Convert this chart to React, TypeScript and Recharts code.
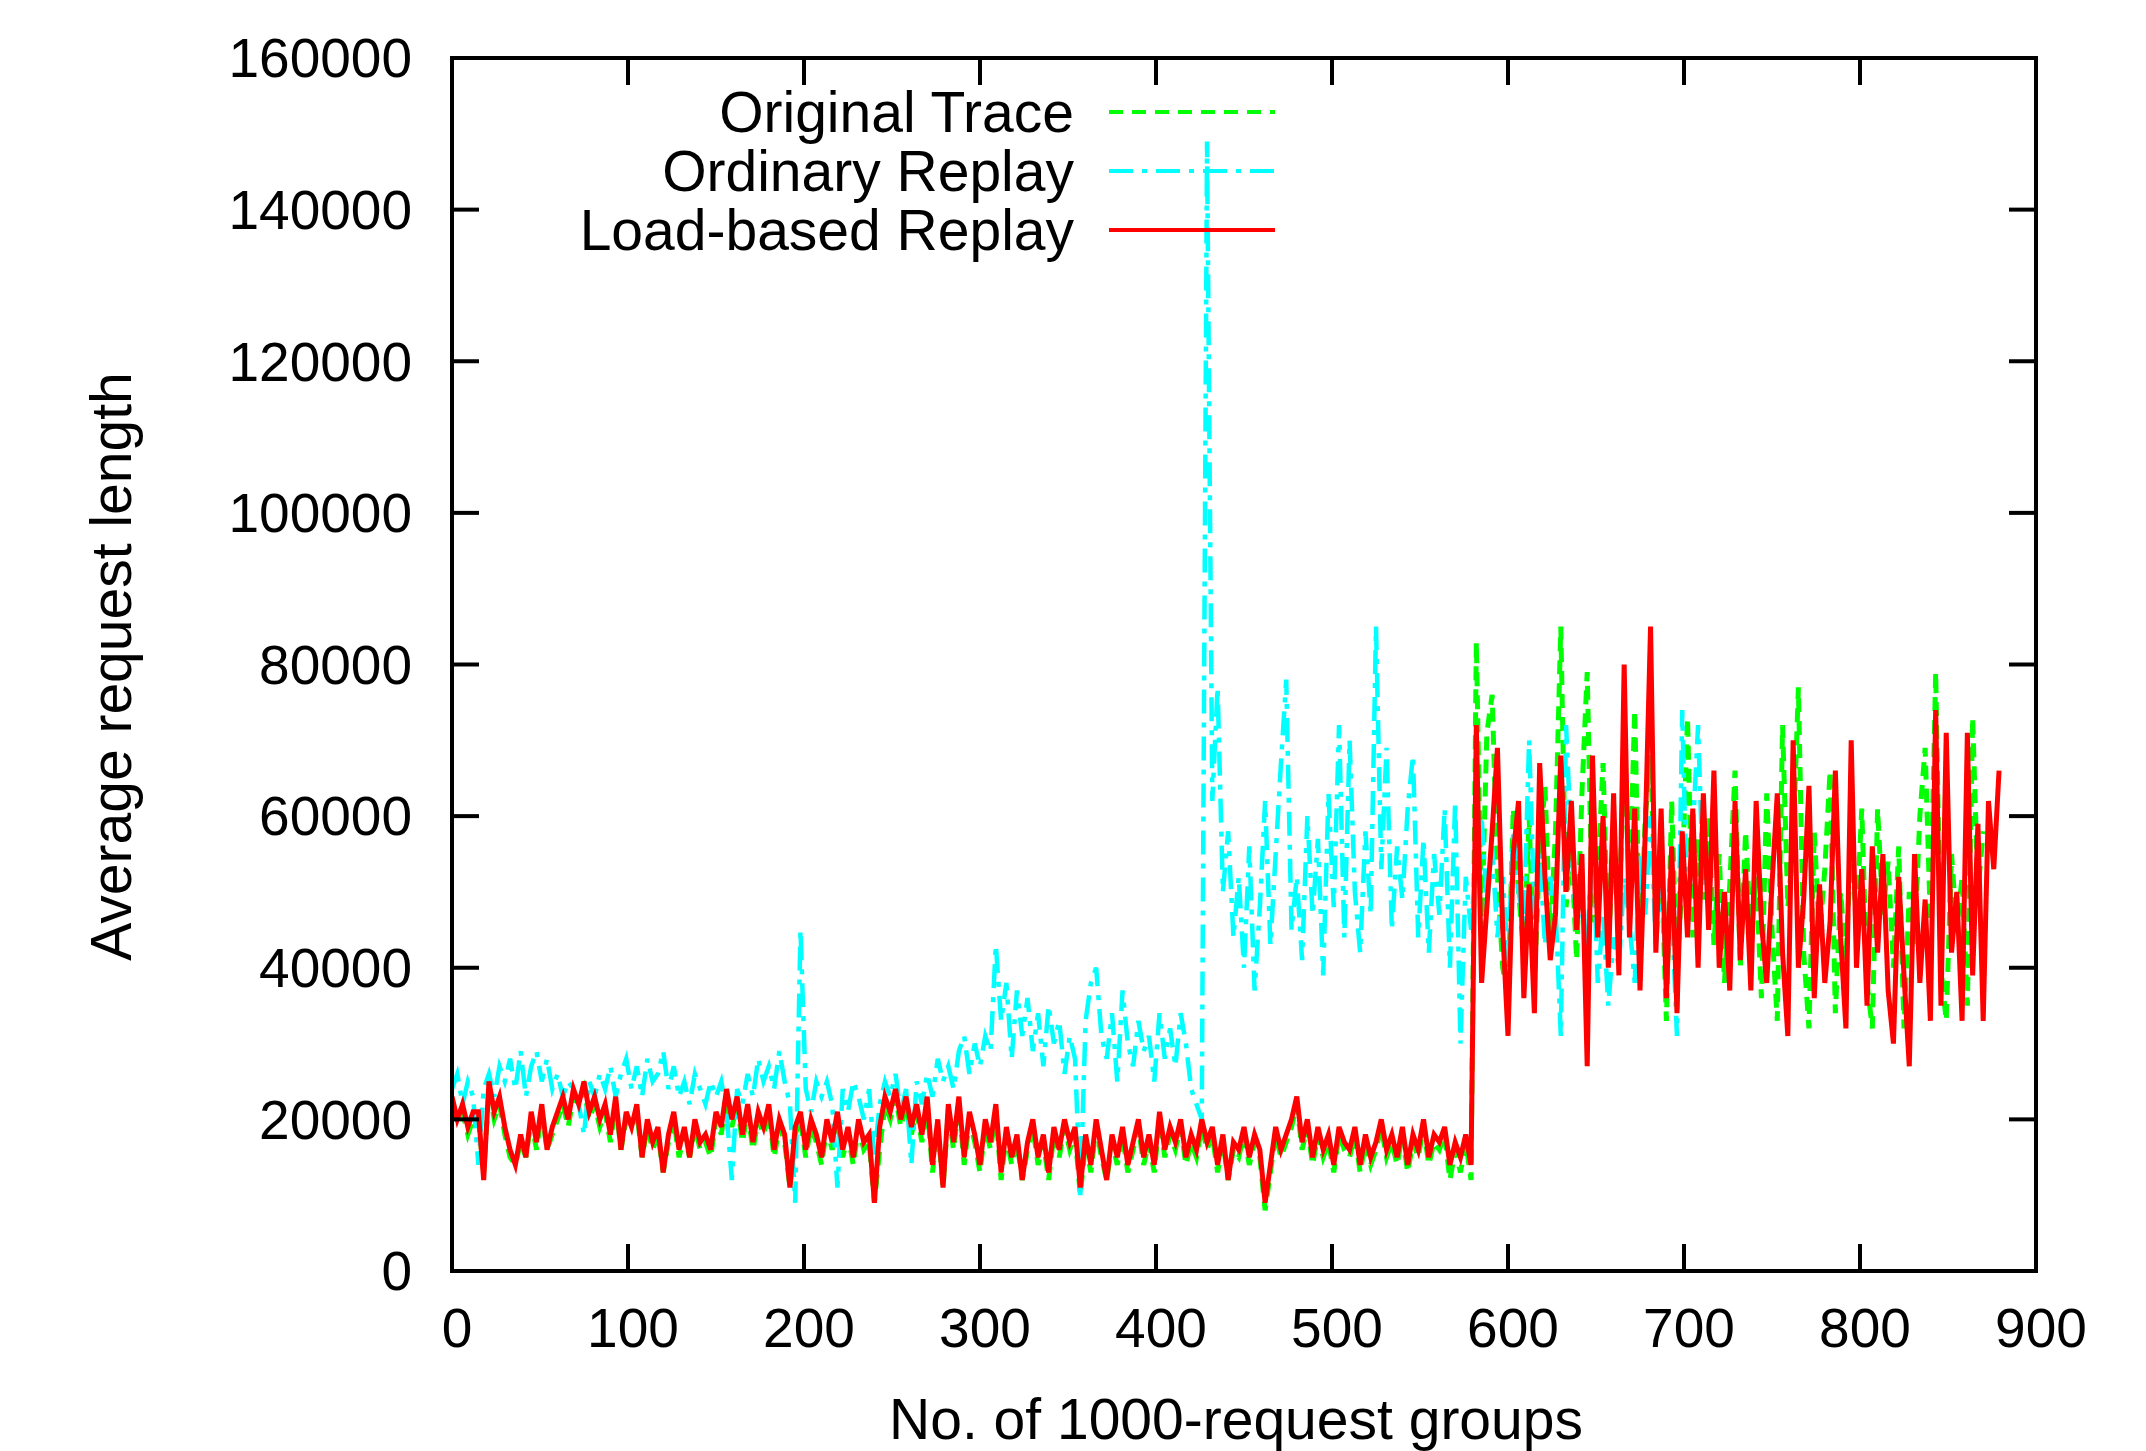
import { LineChart, Line, XAxis, YAxis, Legend, Label } from "recharts"

const FONT = "'Liberation Sans', Arial, Helvetica, sans-serif"

// one sample every 3 request groups
const STEP = 3

const X_TICKS = [0, 100, 200, 300, 400, 500, 600, 700, 800, 900]
const Y_TICKS = [0, 20000, 40000, 60000, 80000, 100000, 120000, 140000, 160000]

// values in thousands
const ORIGINAL_K = [
  22, 20, 21, 18, 20, 20, 13, 24, 20, 22,
  18, 15, 14, 17, 15, 20, 16, 21, 16, 18,
  20, 22, 19, 23, 22, 24, 20, 22, 19, 21,
  17, 22, 16, 20, 19, 21, 15, 19, 16, 18,
  13, 17, 20, 15, 18, 15, 19, 16, 17, 15,
  20, 18, 23, 19, 22, 17, 21, 16, 20, 18,
  21, 15, 19, 17, 11, 18, 20, 15, 19, 17,
  14, 19, 16, 20, 15, 18, 14, 19, 16, 17,
  9, 16, 22, 20, 23, 19, 22, 18, 21, 17,
  22, 13, 19, 11, 21, 16, 22, 14, 20, 17,
  13, 19, 16, 21, 12, 18, 14, 17, 12, 16,
  19, 14, 17, 12, 18, 15, 19, 16, 18, 10,
  17, 13, 19, 15, 12, 17, 14, 18, 13, 16,
  19, 14, 17, 13, 20, 15, 18, 16, 19, 14,
  17, 15, 19, 16, 18, 13, 17, 12, 16, 15,
  18, 14, 17, 15, 8, 13, 18, 15, 17, 19,
  22, 16, 19, 14, 18, 15, 17, 13, 18, 16,
  15, 18, 13, 17, 14, 16, 19, 15, 17, 14,
  18, 13, 17, 15, 19, 14, 17, 16, 18, 12,
  16, 13, 17, 12,
  83, 45, 71, 76, 52, 40, 36, 61, 50, 42,
  60, 38, 55, 64, 44, 58, 85, 48, 56, 41,
  63, 79, 46, 52, 67, 42, 58, 45, 70, 50,
  74, 41, 60, 68, 47, 55, 33, 62, 39, 52,
  73, 44, 57, 49, 60, 43, 55, 38, 51, 66,
  40, 58, 44, 52, 36, 63, 45, 33, 72, 48,
  56, 77, 42, 32, 58, 44, 53, 66, 34, 50,
  41, 57, 46, 61, 38, 32, 61, 47, 54, 40,
  56, 32, 50, 43, 60, 69, 46, 79, 40, 33,
  55, 45, 52, 35, 73, 50, 58,
]

const ORDINARY_K = [
  24, 26, 22, 25, 23, 14, 24, 26, 23, 27,
  25, 28, 24, 29, 23, 27, 29, 25, 28, 24,
  26, 23, 25, 24, 22, 18, 25, 23, 26, 24,
  27, 23, 26, 28, 24, 27, 23, 28, 25, 26,
  29, 24, 27, 23, 25, 22, 26, 24, 22, 25,
  23, 25, 21, 12, 24, 22, 26, 23, 28, 25,
  27, 24, 29, 25, 22, 9, 45, 24, 21, 25,
  23, 25, 22, 11, 24, 21, 25, 23, 20, 24,
  15, 22, 25, 23, 26, 21, 24, 14, 25, 22,
  26, 23, 28, 25, 27, 24, 29, 31, 26, 30,
  27, 31, 29, 43, 33, 38, 28, 37, 31, 36,
  29, 34, 27, 35, 30, 33, 26, 31, 28, 10,
  33, 38, 40, 31, 28, 34, 25, 37, 30, 27,
  33, 29, 31, 25, 34, 28, 32, 27, 34, 30,
  24, 22, 20, 149, 62, 77, 50, 58, 44, 52,
  40, 56, 37, 48, 62, 43, 55, 67, 78, 45,
  52, 41, 60, 47, 57, 39, 63, 48, 72, 44,
  70, 50, 42, 58, 47, 85, 53, 69, 45, 56,
  49, 61, 68, 44, 57, 42, 55, 47, 61, 40,
  62, 30, 52, 45,
  55, 60, 48, 56, 44, 52, 41, 58, 50, 46,
  70, 47, 55, 43, 52, 48, 31, 72, 56, 45,
  50, 42, 58, 38, 47, 35, 44, 40, 52, 46,
  38, 55, 47, 60, 43, 51, 39, 48, 31, 74,
  45, 58, 72, 50,
]

const LOAD_K = [
  23, 20, 22, 19, 21, 21, 12, 25, 21, 23,
  19, 16, 14, 18, 15, 21, 17, 22, 16, 19,
  21, 23, 20, 24, 22, 25, 21, 23, 20, 22,
  18, 23, 16, 21, 19, 22, 15, 20, 17, 19,
  13, 18, 21, 16, 19, 15, 20, 17, 18, 16,
  21, 19, 24, 20, 23, 18, 22, 17, 21, 19,
  22, 16, 20, 18, 11, 19, 21, 16, 20, 18,
  15, 20, 17, 21, 16, 19, 15, 20, 17, 18,
  9, 19, 23, 21, 24, 20, 23, 19, 22, 18,
  23, 14, 20, 11, 22, 17, 23, 15, 21, 18,
  14, 20, 17, 22, 13, 19, 15, 18, 12, 17,
  20, 15, 18, 13, 19, 16, 20, 17, 19, 11,
  18, 14, 20, 16, 12, 18, 15, 19, 14, 17,
  20, 15, 18, 14, 21, 16, 19, 17, 20, 15,
  18, 16, 20, 17, 19, 14, 18, 12, 17, 16,
  19, 15, 18, 16, 9, 14, 19, 16, 18, 20,
  23, 17, 20, 15, 19, 16, 18, 14, 19, 17,
  16, 19, 14, 18, 15, 17, 20, 16, 18, 15,
  19, 14, 18, 16, 20, 15, 18, 17, 19, 14,
  17, 15, 18, 14,
  72, 38, 48, 58, 69, 45, 31, 55, 62, 36,
  51, 34, 67, 52, 41, 47, 68, 50, 62, 45,
  55, 27, 68, 44, 60, 40, 63, 39, 80, 44,
  61, 37, 58, 85, 42, 61, 36, 56, 34, 58,
  44, 61, 40, 63, 45, 66, 40, 50, 37, 62,
  41, 53, 37, 62, 46, 38, 51, 63, 42, 31,
  70, 40, 49, 64, 36, 51, 38, 46, 66, 44,
  32, 70, 40, 53, 35, 56, 42, 55, 37, 30,
  52, 39, 27, 55, 38, 49, 33, 74, 35, 71,
  42, 50, 33, 71, 39, 59, 33, 62, 53, 66,
]

const SERIES = [
  { key: "orig", name: "Original Trace", color: "#00ff00", dash: "14 9", width: 5 },
  { key: "ord", name: "Ordinary Replay", color: "#00ffff", dash: "24 9 5 9", width: 4.5 },
  { key: "load", name: "Load-based Replay", color: "#ff0000", dash: undefined, width: 5 },
]

const toVal = (arr: number[], i: number) => (i < arr.length ? arr[i] * 1000 : null)

const rows = LOAD_K.map((_, i) => ({
  g: i * STEP,
  orig: toVal(ORIGINAL_K, i),
  ord: toVal(ORDINARY_K, i),
  load: toVal(LOAD_K, i),
}))

const axisStroke = { stroke: "#000", strokeWidth: 4, strokeLinecap: "square" as const }

const XTick = ({ x, y, payload }: any) => (
  <text x={x + 5} y={y} dy="0.35em" textAnchor="middle" fontSize={55} fontFamily={FONT} fill="#000">
    {payload.value}
  </text>
)

const YTick = ({ x, y, payload }: any) => (
  <text x={x} y={y} dy="0.35em" textAnchor="end" fontSize={55} fontFamily={FONT} fill="#000">
    {payload.value}
  </text>
)

// mirror axes: keep the tick marks, no labels
const NoLabel = () => <g />

const XTitle = (props: any) => {
  const { x, y, width } = props.viewBox
  return (
    <text x={x + width / 2 - 8} y={y + 148} dy="0.35em" textAnchor="middle" fontSize={57} fontFamily={FONT} fill="#000">
      No. of 1000-request groups
    </text>
  )
}

const YTitle = (props: any) => {
  const { x, y, height } = props.viewBox
  const cx = x - 41
  const cy = y + height / 2 + 2
  return (
    <text x={cx} y={cy} dy="0.35em" textAnchor="middle" transform={`rotate(-90 ${cx} ${cy})`} fontSize={57} fontFamily={FONT} fill="#000">
      Average request length
    </text>
  )
}

const LegendBox = () => (
  <svg width={900} height={240} style={{ overflow: "visible" }}>
    {SERIES.map((s, i) => (
      <g key={s.key}>
        <text x={674} y={52 + i * 59} dy="0.35em" textAnchor="end" fontSize={57} fontFamily={FONT} fill="#000">
          {s.name}
        </text>
        <line x1={709} x2={875} y1={52 + i * 59} y2={52 + i * 59} stroke={s.color} strokeWidth={4} strokeDasharray={s.dash} />
      </g>
    ))}
  </svg>
)

export default function App() {
  return (
    <div style={{ position: "absolute", left: 0, top: 0 }}>
      <LineChart width={2146} height={1451} data={rows} margin={{ top: 57, right: 109, bottom: 30, left: 152 }}>
        <XAxis xAxisId="b" dataKey="g" type="number" domain={[0, 900]} allowDataOverflow ticks={X_TICKS} interval={0}
          height={150} tickSize={-25} tickMargin={82} tick={XTick} axisLine={axisStroke} tickLine={axisStroke}>
          <Label content={XTitle} />
        </XAxis>
        <XAxis xAxisId="t" dataKey="g" orientation="top" type="number" domain={[0, 900]} allowDataOverflow ticks={X_TICKS} interval={0}
          height={1} tickSize={-25} tick={NoLabel} axisLine={axisStroke} tickLine={axisStroke} />
        <YAxis yAxisId="l" type="number" domain={[0, 160000]} allowDataOverflow ticks={Y_TICKS} interval={0}
          width={300} tickSize={-25} tickMargin={65} tick={YTick} axisLine={axisStroke} tickLine={axisStroke}>
          <Label content={YTitle} />
        </YAxis>
        <YAxis yAxisId="r" orientation="right" type="number" domain={[0, 160000]} allowDataOverflow ticks={Y_TICKS} interval={0}
          width={1} tickSize={-25} tick={NoLabel} axisLine={axisStroke} tickLine={axisStroke} />
        {SERIES.map(s => (
          <Line key={s.key} xAxisId="b" yAxisId="l" type="linear" dataKey={s.key} name={s.name}
            stroke={s.color} strokeWidth={s.width} strokeDasharray={s.dash} dot={false} activeDot={false}
            isAnimationActive={false} />
        ))}
        <Legend layout="horizontal" verticalAlign="middle" align="center"
          wrapperStyle={{ left: 400, top: 60, width: 900, height: 240 }} content={LegendBox} />
      </LineChart>
    </div>
  )
}
